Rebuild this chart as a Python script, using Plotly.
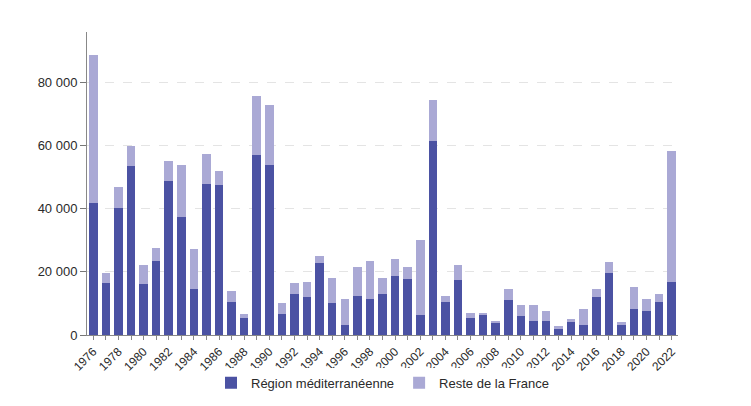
import plotly.graph_objects as go

years = list(range(1976, 2023))
mediterranee = [41.9, 16.4, 40.1, 53.5, 16.1, 23.6, 48.8, 37.3, 14.7, 47.7,
                47.5, 10.3, 5.3, 57.1, 54.0, 6.5, 12.9, 11.9, 22.7, 10.0,
                3.2, 12.3, 11.3, 12.9, 18.8, 17.9, 6.3, 61.4, 10.6, 17.4,
                5.5, 6.5, 3.7, 11.1, 6.1, 4.5, 4.4, 1.9, 4.1, 3.2,
                12.1, 19.5, 3.2, 8.3, 7.7, 10.6, 16.9]
totals = [88.7, 19.8, 46.8, 59.8, 22.2, 27.7, 55.2, 53.8, 27.1, 57.5,
          51.9, 14.0, 6.6, 75.7, 72.8, 10.0, 16.6, 16.7, 25.0, 18.2,
          11.4, 21.4, 23.5, 18.2, 24.1, 21.6, 30.1, 74.4, 12.3, 22.2,
          7.1, 6.8, 4.5, 14.7, 9.5, 9.5, 7.7, 3.0, 5.0, 8.2,
          14.5, 23.2, 4.0, 15.1, 11.3, 12.9, 58.4]
mediterranee = [v * 1000 for v in mediterranee]
reste = [t * 1000 - m for t, m in zip(totals, mediterranee)]

y_ticks = [0, 20000, 40000, 60000, 80000]
y_labels = ["0", "20 000", "40 000", "60 000", "80 000"]
x_labels = [str(y) if y % 2 == 0 else "" for y in years]

dark = "#4b52a3"
light = "#aaa9d5"

fig = go.Figure()
fig.add_trace(go.Bar(x=years, y=mediterranee, name="Région méditerranéenne",
                     marker=dict(color=dark, line=dict(width=0))))
fig.add_trace(go.Bar(x=years, y=reste, name="Reste de la France",
                     marker=dict(color=light, line=dict(width=0))))

fig.update_layout(
    barmode="stack",
    bargap=0.32,
    width=743, height=398,
    margin=dict(l=79, r=73, t=24, b=71, autoexpand=False),
    paper_bgcolor="white", plot_bgcolor="white",
    font=dict(family="Liberation Sans, Arial, sans-serif", size=12, color="#333333"),
    showlegend=True,
    legend=dict(orientation="h", x=0.5, xanchor="center", y=-0.158, yanchor="middle",
                font=dict(size=13, color="#2a2a2a"), itemwidth=30, traceorder="normal"),
    xaxis=dict(
        range=[1975.5, 2022.5], automargin=False,
        tickmode="array", tickvals=years, ticktext=x_labels,
        tickangle=-45, ticks="outside", ticklen=4, tickcolor="#888888",
        showline=True, linecolor="#888888", linewidth=1,
        showgrid=False, zeroline=False,
        tickfont=dict(size=12, color="#2a2a2a"),
    ),
    yaxis=dict(
        range=[0, 96000], automargin=False,
        tickmode="array", tickvals=y_ticks, ticktext=y_labels,
        ticks="outside", ticklen=6, tickcolor="#777777",
        showline=True, linecolor="#888888", linewidth=1,
        showgrid=True, gridcolor="#e4e4e4", griddash="dash", gridwidth=1,
        zeroline=False,
        tickfont=dict(size=13, color="#2a2a2a"),
    ),
)

fig.write_html("out.html")
